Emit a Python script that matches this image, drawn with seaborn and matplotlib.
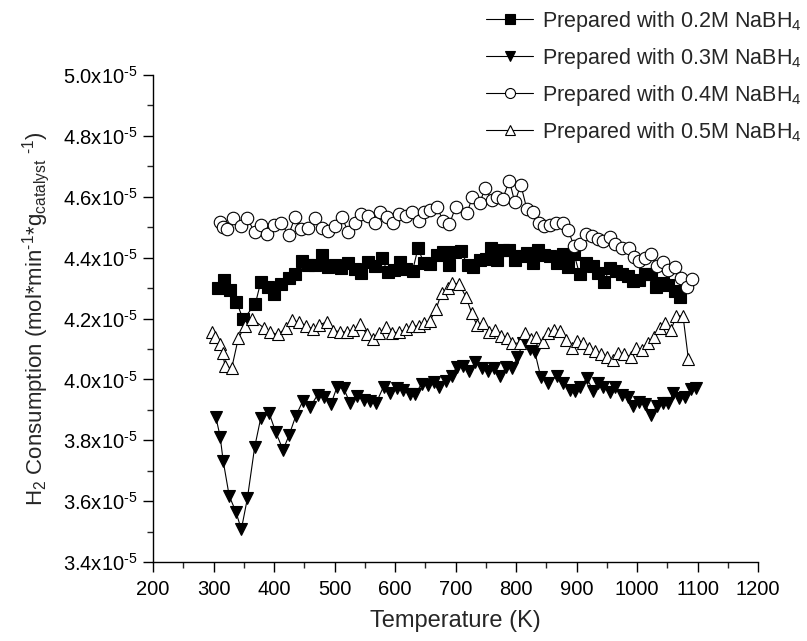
import numpy as np
import pandas as pd
import matplotlib
matplotlib.use("Agg")
import matplotlib.pyplot as plt
from matplotlib.ticker import MultipleLocator, FuncFormatter
import seaborn as sns

# ---- data (y in units of 1e-5 mol*min^-1*g^-1) ----
t_02 = [308, 317, 327, 338, 349, 369, 378, 390, 400, 412, 424, 435, 447, 457, 468, 479, 490, 501,
        511, 523, 534, 544, 556, 567, 578, 588, 598, 608, 618, 629, 638, 648, 658, 669, 679, 690,
        699, 709, 720, 729, 740, 750, 758, 768, 778, 789, 798, 808, 818, 828, 837, 847, 856, 867,
        877, 886, 896, 905, 916, 927, 936, 946, 955, 965, 975, 985, 994, 1004, 1013, 1023, 1031,
        1043, 1052, 1062, 1071]
v_02 = [4.300, 4.326, 4.294, 4.255, 4.197, 4.247, 4.319, 4.304, 4.279, 4.313, 4.334, 4.346, 4.389,
        4.376, 4.376, 4.409, 4.368, 4.376, 4.367, 4.381, 4.363, 4.348, 4.387, 4.372, 4.398, 4.354,
        4.359, 4.387, 4.363, 4.356, 4.431, 4.381, 4.379, 4.409, 4.419, 4.376, 4.419, 4.422, 4.376,
        4.370, 4.392, 4.395, 4.433, 4.392, 4.425, 4.425, 4.392, 4.405, 4.414, 4.383, 4.425, 4.409,
        4.405, 4.381, 4.412, 4.370, 4.412, 4.346, 4.381, 4.372, 4.350, 4.321, 4.367, 4.357, 4.346,
        4.340, 4.324, 4.326, 4.345, 4.346, 4.302, 4.317, 4.310, 4.291, 4.272]

t_03 = [304, 311, 316, 326, 337, 346, 356, 368, 378, 392, 403, 415, 425, 436, 448, 460, 472, 483,
        494, 504, 515, 526, 537, 548, 559, 569, 581, 591, 603, 614, 624, 633, 644, 655, 665, 673,
        684, 694, 702, 713, 723, 733, 744, 753, 763, 774, 784, 794, 802, 812, 823, 831, 841, 853,
        867, 878, 889, 898, 906, 917, 928, 936, 944, 955, 964, 975, 985, 994, 1004, 1013, 1023,
        1033, 1043, 1052, 1060, 1070, 1079, 1089, 1098]
v_03 = [3.875, 3.812, 3.732, 3.617, 3.565, 3.507, 3.609, 3.777, 3.872, 3.889, 3.826, 3.768, 3.817,
        3.880, 3.930, 3.910, 3.949, 3.941, 3.918, 3.974, 3.971, 3.921, 3.946, 3.932, 3.930, 3.923,
        3.976, 3.956, 3.971, 3.965, 3.951, 3.951, 3.985, 3.981, 3.992, 3.974, 3.995, 4.011, 4.042,
        4.045, 4.028, 4.058, 4.036, 4.027, 4.036, 4.011, 4.042, 4.036, 4.074, 4.118, 4.099, 4.091,
        4.007, 3.987, 4.011, 3.987, 3.965, 3.963, 3.976, 4.003, 3.963, 3.987, 3.974, 3.960, 3.974,
        3.949, 3.941, 3.912, 3.927, 3.919, 3.883, 3.912, 3.921, 3.923, 3.954, 3.938, 3.941, 3.967,
        3.971]

t_04 = [311, 316, 323, 333, 345, 356, 368, 378, 389, 400, 412, 424, 435, 445, 456, 467, 479, 489,
        500, 512, 523, 534, 544, 556, 567, 576, 586, 596, 607, 618, 628, 639, 648, 658, 669, 680,
        690, 700, 719, 728, 740, 749, 760, 768, 778, 789, 798, 808, 818, 828, 838, 847, 856, 866,
        877, 886, 896, 906, 915, 925, 935, 944, 955, 964, 975, 986, 995, 1004, 1013, 1023, 1033,
        1043, 1052, 1063, 1073, 1082, 1091]
v_04 = [4.518, 4.500, 4.493, 4.529, 4.504, 4.529, 4.483, 4.507, 4.478, 4.507, 4.513, 4.474, 4.534,
        4.494, 4.496, 4.529, 4.496, 4.487, 4.505, 4.534, 4.483, 4.513, 4.543, 4.537, 4.513, 4.551,
        4.534, 4.513, 4.543, 4.537, 4.551, 4.520, 4.551, 4.556, 4.567, 4.520, 4.510, 4.565, 4.546,
        4.600, 4.578, 4.630, 4.589, 4.600, 4.593, 4.653, 4.582, 4.639, 4.559, 4.551, 4.515, 4.504,
        4.507, 4.513, 4.513, 4.491, 4.438, 4.444, 4.477, 4.471, 4.460, 4.456, 4.467, 4.445, 4.433,
        4.433, 4.401, 4.389, 4.398, 4.411, 4.372, 4.387, 4.359, 4.369, 4.334, 4.304, 4.329]

t_05 = [297, 303, 311, 315, 319, 330, 341, 352, 363, 384, 393, 406, 420, 430, 442, 453, 465, 475,
        487, 497, 509, 520, 531, 542, 553, 564, 574, 585, 595, 607, 618, 628, 639, 648, 658, 668,
        677, 687, 695, 706, 717, 727, 735, 746, 755, 766, 775, 785, 794, 806, 815, 824, 833, 844,
        853, 863, 873, 882, 892, 900, 911, 921, 931, 940, 950, 960, 969, 979, 990, 998, 1009, 1019,
        1028, 1038, 1046, 1056, 1065, 1076, 1085]
v_05 = [4.155, 4.140, 4.115, 4.086, 4.045, 4.036, 4.135, 4.175, 4.200, 4.168, 4.155, 4.148, 4.168,
        4.195, 4.187, 4.176, 4.164, 4.179, 4.189, 4.160, 4.157, 4.155, 4.162, 4.182, 4.149, 4.132,
        4.153, 4.173, 4.153, 4.155, 4.164, 4.176, 4.175, 4.186, 4.193, 4.231, 4.285, 4.299, 4.316,
        4.313, 4.272, 4.217, 4.179, 4.186, 4.157, 4.162, 4.142, 4.137, 4.120, 4.118, 4.151, 4.132,
        4.138, 4.124, 4.151, 4.162, 4.160, 4.129, 4.104, 4.127, 4.120, 4.102, 4.094, 4.082, 4.072,
        4.064, 4.086, 4.083, 4.074, 4.102, 4.096, 4.120, 4.138, 4.168, 4.186, 4.162, 4.208, 4.209,
        4.066]

labels = ["Prepared with 0.2M NaBH$_4$", "Prepared with 0.3M NaBH$_4$",
          "Prepared with 0.4M NaBH$_4$", "Prepared with 0.5M NaBH$_4$"]
x_ticks = [200, 300, 400, 500, 600, 700, 800, 900, 1000, 1100, 1200]
y_ticks = [3.4, 3.6, 3.8, 4.0, 4.2, 4.4, 4.6, 4.8, 5.0]

series = [(t_02, v_02, "s", "black"), (t_03, v_03, "v", "black"),
          (t_04, v_04, "o", "white"), (t_05, v_05, "^", "white")]

# ---- style ----
sns.set_theme(style="ticks")
plt.rcParams["font.family"] = ["Liberation Sans", "DejaVu Sans"]
plt.rcParams["mathtext.default"] = "regular"
plt.rcParams["axes.linewidth"] = 1.0

fig = plt.figure(figsize=(8.07, 6.41), dpi=100)
ax = fig.add_axes([153 / 807, 79 / 641, 605 / 807, 487 / 641])

for (t, v, m, fc), lab in zip(series, labels):
    df = pd.DataFrame({"T": t, "V": v})
    sns.lineplot(data=df, x="T", y="V", ax=ax, sort=False, estimator=None,
                 color="black", linewidth=0.8, marker=m, markersize=9,
                 markerfacecolor=fc, markeredgecolor="black", markeredgewidth=0.8,
                 label=lab)

ax.set_xlim(200, 1200)
ax.set_ylim(3.4, 5.0)
ax.set_xticks(x_ticks)
ax.set_yticks(y_ticks)
ax.xaxis.set_minor_locator(MultipleLocator(50))
ax.yaxis.set_minor_locator(MultipleLocator(0.1))
ax.yaxis.set_major_formatter(FuncFormatter(lambda y, p: "$%.1fx10^{\u20105}$" % y))
ax.tick_params(axis="both", which="major", direction="out", length=7, width=1.0,
               labelsize=14.5, colors="black")
ax.tick_params(axis="both", which="minor", direction="out", length=4, width=1.0)
ax.tick_params(axis="x", pad=6)
ax.tick_params(axis="y", pad=4)
for s in ["top", "right"]:
    ax.spines[s].set_visible(False)
for s in ["left", "bottom"]:
    ax.spines[s].set_color("black")

ax.set_xlabel("Temperature (K)", fontsize=17, labelpad=8)
ax.set_ylabel("H$_2$ Consumption (mol*min$^{\u20101}$*g$_{catalyst}$ $^{\u20101}$)",
              fontsize=16, labelpad=8)

handles, labs = ax.get_legend_handles_labels()
leg = ax.legend(handles, labs, loc="upper left", bbox_to_anchor=(486 / 807, 1 - 9 / 641),
                bbox_transform=fig.transFigure, frameon=False, fontsize=15.5,
                handlelength=2.2, handletextpad=0.4, labelspacing=0.55,
                borderpad=0, borderaxespad=0, markerscale=0.8)

fig.savefig("out.png", dpi=100)
